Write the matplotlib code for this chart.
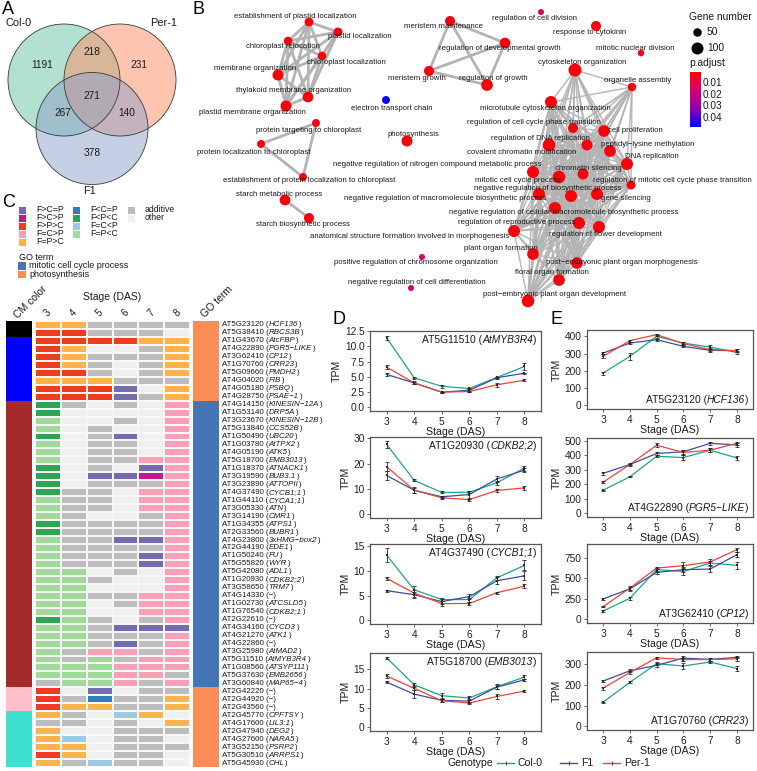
import numpy as np
import matplotlib
matplotlib.use("Agg")
import matplotlib.pyplot as plt
from matplotlib.colors import ListedColormap, LinearSegmentedColormap, Normalize
from matplotlib.patches import Circle, Rectangle
from matplotlib.lines import Line2D
from itertools import combinations

plt.rcParams["font.family"] = ["Liberation Sans", "DejaVu Sans"]

# ============================ DATA ============================
# --- A: Venn counts
venn_sets = ["Col-0", "Per-1", "F1"]
venn_regions = ["Col-0", "Col-0&Per-1", "Per-1", "Col-0&F1", "all", "Per-1&F1", "F1"]
venn_values = [1191, 218, 231, 267, 271, 140, 378]

# --- B: GO network
go_terms = [
    "establishment of plastid localization", "plastid localization", "chloroplast relocation",
    "chloroplast localization", "membrane organization", "thylakoid membrane organization",
    "plastid membrane organization", "protein targeting to chloroplast",
    "protein localization to chloroplast", "establishment of protein localization to chloroplast",
    "starch metabolic process", "starch biosynthetic process", "electron transport chain",
    "photosynthesis", "meristem maintenance", "meristem growth",
    "regulation of developmental growth", "regulation of growth", "regulation of cell division",
    "response to cytokinin", "mitotic nuclear division", "cytoskeleton organization",
    "organelle assembly", "microtubule cytoskeleton organization",
    "regulation of cell cycle phase transition", "cell proliferation",
    "regulation of DNA replication", "covalent chromatin modification",
    "peptidyl\u2212lysine methylation", "DNA replication",
    "negative regulation of nitrogen compound metabolic process", "chromatin silencing",
    "mitotic cell cycle process", "regulation of mitotic cell cycle phase transition",
    "negative regulation of biosynthetic process",
    "negative regulation of macromolecule biosynthetic process", "gene silencing",
    "negative regulation of cellular macromolecule biosynthetic process",
    "regulation of reproductive process", "regulation of flower development",
    "anatomical structure formation involved in morphogenesis", "plant organ formation",
    "post\u2212embryonic plant organ morphogenesis", "floral organ formation",
    "post\u2212embryonic plant organ development",
    "positive regulation of chromosome organization",
    "negative regulation of cell differentiation",
]
go_count = [55, 55, 50, 50, 84, 80, 84, 44, 44, 44, 80, 70, 44, 84, 70, 70, 80, 95,
            25, 70, 30, 117, 50, 100, 70, 95, 110, 84, 95, 100, 100, 84, 110, 56,
            100, 100, 100, 100, 100, 100, 100, 95, 95, 95, 110, 25, 25]
go_padj = [0.002] * 47
go_padj[12] = 0.047
go_padj[18] = 0.013
go_padj[20] = 0.004
go_padj[45] = 0.016
go_padj[46] = 0.016

# network layout (layout coordinates of the drawing)
node_x = [309, 338, 288, 322, 278, 308, 286, 316, 261, 303, 285, 309, 386, 407, 450, 429,
          505, 487, 541, 596, 641, 575, 632, 551, 573, 604, 549, 587, 610, 627, 533, 583,
          559, 631, 539, 571, 597, 555, 579, 599, 514, 533, 577, 559, 528, 422, 411]
node_y = [22, 32, 41, 56, 75, 97, 106, 123, 144, 177, 200, 218, 100, 141, 21, 71,
          43, 85, 12, 26, 53, 70, 87, 102, 128, 131, 145, 145, 151, 164, 172, 174,
          177, 185, 194, 196, 194, 208, 223, 227, 231, 254, 263, 280, 301, 257, 288]
label_x = [295, 360, 283, 346, 255, 294, 252, 309, 254, 309, 279, 303, 392, 413, 443, 417,
           500, 493, 534, 590, 635, 582, 638, 545, 534, 635, 540, 522, 648, 652, 437, 588,
           518, 672, 548, 445, 626, 564, 517, 605, 410, 501, 622, 552, 555, 416, 417]
label_y = [17, 37, 47, 62, 69, 91, 112, 130, 152, 180, 194, 225, 108, 134, 27, 78,
           49, 79, 19, 33, 48, 63, 81, 109, 123, 130, 139, 152, 145, 157, 164, 168,
           180, 180, 188, 198, 198, 212, 222, 234, 237, 249, 262, 273, 295, 263, 282]
net_clusters = [list(range(0, 7)), [7, 8, 9], [10, 11], [14, 15, 16, 17]]
net_big_core = list(range(23, 45))
net_big_hubs = [21, 22]

# --- C: heatmap
cat_labels = ["F>C=P", "F>C>P", "F>P>C", "F=C>P", "F=P>C",
              "F<C=P", "F<P<C", "F=C<P", "F=P<C", "additive", "other"]
cat_codes = "PMRKOBGLgAN"
cat_colors = ["#756bb1", "#c51b8a", "#f03b20", "#fa9fb5", "#feb24c",
              "#2c7fb8", "#31a354", "#9ecae1", "#a1d99b", "#bdbdbd", "#f0f0f0"]

gene_ids = ["AT5G23120", "AT5G38410", "AT1G43670", "AT4G22890", "AT3G62410", "AT1G70760",
            "AT5G09660", "AT4G04020", "AT4G05180", "AT4G28750", "AT4G14150", "AT1G53140",
            "AT3G23670", "AT5G13840", "AT1G50490", "AT1G03780", "AT4G05190", "AT5G18700",
            "AT1G18370", "AT3G19590", "AT3G23890", "AT4G37490", "AT1G44110", "AT3G05330",
            "AT3G14190", "AT1G34355", "AT2G33560", "AT4G23800", "AT2G44190", "AT1G50240",
            "AT5G55820", "AT5G42080", "AT1G20930", "AT3G58650", "AT4G14330", "AT1G02730",
            "AT1G76540", "AT2G22610", "AT4G34160", "AT4G21270", "AT4G22860", "AT3G25980",
            "AT5G11510", "AT1G08560", "AT5G37630", "AT3G60840", "AT2G42220", "AT2G44920",
            "AT2G43560", "AT2G45770", "AT4G17600", "AT2G47940", "AT4G27600", "AT3G52150",
            "AT5G30510", "AT5G45930"]
gene_symbols = ["HCF136", "RBCS3B", "AtcFBP", "PGR5\u2212LIKE", "CP12", "CRR23", "PMDH2", "FIB",
                "PSBQ", "PSAE\u22121", "KINESIN\u221212A", "DRP5A", "KINESIN\u221212B", "CCS52B",
                "UBC20", "AtTPX2", "ATK5", "EMB3013", "ATNACK1", "BUB3.1", "ATTOPII",
                "CYCB1;1", "CYCA1;1", "ATN", "CMR1", "ATPS1", "BUBR1", "3xHMG\u2212box2", "EDE1",
                "FU", "WYR", "ADL1", "CDKB2;2", "TRM7", "", "ATCSLD5", "CDKB2;1", "", "CYCD3",
                "ATK1", "", "AtMAD2", "AtMYB3R4", "ATSYP111", "EMB2656", "MAP65\u22124", "", "",
                "", "CPFTSY", "LIL3:1", "DEG2", "NARA5", "PSRP2", "ARRPS1", "CHL"]
# one letter per stage 3..8 (see cat_codes)
gene_patterns = ["OOAAAA", "RRAAAN", "RRRROO", "RONNAO", "ROAAAO", "ROANAO", "RRANAO",
                 "OOOAAA", "RRRPNO", "RRRPAO", "GANANK", "GNNNNK", "gNNANK", "gNANNK",
                 "GNAPNK", "gNAANK", "gNAANK", "gNAAKK", "GNANPK", "GNPPMK", "GNAAAK",
                 "GAANKK", "gAANKK", "gAANKK", "gANNAK", "GAAAAK", "GAAAAK", "gAAPPK",
                 "gAAAAK", "gAAAPK", "gAAAPK", "ggNANK", "ggANNK", "ggNNNK", "ggAAKK",
                 "ggNAKK", "ggNNKK", "GgANAK", "ggAPPP", "ggAAAK", "ggAPAK", "gAKKAK",
                 "gAgAKK", "gggKKK", "gggKKA", "AggKAK", "RNPNAA", "RABAAO", "ROOAAO",
                 "OANLON", "AANANO", "ONNAAA", "OLNAAN", "OONAAA", "RONAAN", "OALAAN"]
gene_module = ["black"] * 2 + ["blue"] * 8 + ["brown"] * 36 + ["pink"] * 3 + ["turquoise"] * 7
gene_go = ["photosynthesis"] * 10 + ["mitotic cell cycle process"] * 36 + ["photosynthesis"] * 10
stage_labels = ["3", "4", "5", "6", "7", "8"]
go_legend = ["mitotic cell cycle process", "photosynthesis"]

# --- D/E: expression (TPM mean and error)
stages = [3, 4, 5, 6, 7, 8]
genotypes = ["Col-0", "F1", "Per-1"]
tpm_AT5G11510 = {"Col-0": [11.4, 4.85, 3.45, 3.1, 4.9, 6.7], "F1": [5.4, 4.0, 2.5, 2.8, 4.85, 5.6],
                 "Per-1": [6.6, 4.0, 2.5, 2.6, 3.7, 4.45]}
se_AT5G11510 = {"Col-0": [0.3, 0.15, 0.2, 0.15, 0.15, 0.6], "F1": [0.2, 0.2, 0.1, 0.2, 0.15, 0.1],
                "Per-1": [0.35, 0.25, 0.1, 0.15, 0.3, 0.15]}
tpm_AT1G20930 = {"Col-0": [27.6, 13.4, 8.6, 8.7, 12.4, 18.2], "F1": [15.3, 9.5, 6.9, 7.8, 13.9, 17.4],
                 "Per-1": [18.8, 9.5, 6.5, 5.8, 9.4, 10.4]}
se_AT1G20930 = {"Col-0": [1.4, 0.4, 0.4, 0.5, 0.8, 1.0], "F1": [1.6, 1.0, 0.5, 1.2, 1.3, 0.8],
                "Per-1": [1.9, 1.2, 0.5, 0.4, 0.5, 0.8]}
tpm_AT4G37490 = {"Col-0": [13.2, 6.2, 4.2, 4.2, 8.6, 11.1], "F1": [6.0, 5.2, 3.8, 4.8, 8.0, 9.0],
                 "Per-1": [8.5, 5.5, 3.4, 3.4, 5.6, 6.9]}
se_AT4G37490 = {"Col-0": [1.5, 0.8, 0.3, 0.4, 0.4, 1.0], "F1": [0.2, 0.6, 0.5, 0.5, 0.7, 0.9],
                "Per-1": [0.3, 0.7, 0.5, 0.3, 0.2, 0.4]}
tpm_AT5G18700 = {"Col-0": [18.0, 11.0, 8.2, 7.6, 10.5, 13.0], "F1": [11.7, 8.6, 7.0, 6.8, 10.4, 12.3],
                 "Per-1": [13.3, 10.1, 6.9, 6.3, 8.0, 9.4]}
se_AT5G18700 = {"Col-0": [0.3, 0.4, 0.7, 0.4, 0.6, 0.6], "F1": [0.3, 1.0, 0.4, 0.5, 0.5, 0.3],
                "Per-1": [0.5, 0.4, 0.4, 0.3, 0.7, 0.2]}
tpm_AT5G23120 = {"Col-0": [187, 284, 400, 361, 338, 307], "F1": [303, 361, 381, 342, 319, 317],
                 "Per-1": [284, 375, 410, 358, 323, 317]}
se_AT5G23120 = {"Col-0": [8, 20, 8, 8, 10, 10], "F1": [6, 8, 6, 6, 8, 8], "Per-1": [12, 6, 6, 8, 8, 8]}
tpm_AT4G22890 = {"Col-0": [160, 252, 394, 385, 436, 382], "F1": [276, 337, 413, 425, 483, 472],
                 "Per-1": [215, 337, 470, 420, 436, 483]}
se_AT4G22890 = {"Col-0": [4, 4, 8, 20, 12, 12], "F1": [8, 8, 10, 15, 12, 15], "Per-1": [8, 6, 15, 15, 12, 12]}
tpm_AT3G62410 = {"Col-0": [102, 258, 607, 586, 689, 660], "F1": [250, 373, 574, 607, 615, 791],
                 "Per-1": [156, 381, 627, 656, 701, 852]}
se_AT3G62410 = {"Col-0": [12, 20, 25, 45, 30, 40], "F1": [10, 20, 20, 30, 40, 30], "Per-1": [10, 25, 15, 40, 40, 25]}
tpm_AT1G70760 = {"Col-0": [116, 211, 300, 289, 308, 277], "F1": [217, 266, 292, 327, 320, 331],
                 "Per-1": [183, 258, 328, 320, 320, 323]}
se_AT1G70760 = {"Col-0": [3, 4, 8, 12, 6, 10], "F1": [6, 8, 10, 12, 8, 5], "Per-1": [8, 8, 5, 8, 8, 8]}

d_genes = ["AT5G11510", "AT1G20930", "AT4G37490", "AT5G18700"]
d_symbols = ["AtMYB3R4", "CDKB2;2", "CYCB1;1", "EMB3013"]
e_genes = ["AT5G23120", "AT4G22890", "AT3G62410", "AT1G70760"]
e_symbols = ["HCF136", "PGR5\u2212LIKE", "CP12", "CRR23"]
d_yticks = [[0, 2.5, 5, 7.5, 10, 12.5], [0, 10, 20, 30], [0, 5, 10, 15], [0, 5, 10, 15]]
e_yticks = [[0, 100, 200, 300, 400], [0, 100, 200, 300, 400, 500], [0, 250, 500, 750], [0, 100, 200, 300]]

# ============================ STYLE ============================
W, H = 757, 771
fig = plt.figure(figsize=(W / 100, H / 100), dpi=100)
TXT = "#1a1a1a"
geno_colors = {"Col-0": "#1ba58a", "F1": "#3c4e9d", "Per-1": "#ee4336"}
venn_fill = ["#66c2a5", "#fc8d62", "#8da0cb"]
module_colors = {"black": "#000000", "blue": "#0000ff", "brown": "#a52a2a",
                 "pink": "#ffc0cb", "turquoise": "#40e0d0"}
go_colors = {"mitotic cell cycle process": "#4575b4", "photosynthesis": "#fc8d59"}
p_cmap = LinearSegmentedColormap.from_list("padj", ["#ff0000", "#e2005a", "#b40090", "#7000c8", "#0000ff"])
p_norm = Normalize(0.0005, 0.048)


def px_axes(x0, y0, x1, y1):
    return fig.add_axes([x0 / W, 1 - y1 / H, (x1 - x0) / W, (y1 - y0) / H])


def ftext(x, y, s, **kw):
    return fig.text(x / W, 1 - y / H, s, **kw)


def rich_left(ax, x, y, gid, sym, fs, transform=None):
    transform = transform or ax.transData
    if not sym:
        ax.text(x, y, f"{gid} (\u2212)", transform=transform, ha="left", va="center", fontsize=fs, color=TXT)
        return
    t1 = ax.text(x, y, f"{gid} (", transform=transform, ha="left", va="center", fontsize=fs, color=TXT)
    t2 = ax.annotate(sym, xy=(1, 0), xycoords=t1, ha="left", va="bottom", fontsize=fs, style="italic", color=TXT)
    ax.annotate(")", xy=(1, 0), xycoords=t2, ha="left", va="bottom", fontsize=fs, color=TXT)


def rich_right(ax, x, y, gid, sym, fs):
    t3 = ax.text(x, y, ")", transform=ax.transAxes, ha="right", va="center", fontsize=fs, color=TXT)
    t2 = ax.annotate(sym, xy=(0, 0), xycoords=t3, ha="right", va="bottom", fontsize=fs, style="italic", color=TXT)
    ax.annotate(f"{gid} (", xy=(0, 0), xycoords=t2, ha="right", va="bottom", fontsize=fs, color=TXT)


# ============================ PANEL A ============================
axA = px_axes(0, 0, 195, 200)
axA.set_xlim(0, 195)
axA.set_ylim(200, 0)
axA.axis("off")
venn_cx = [64, 120, 92]
venn_cy = [80, 80, 128.5]
venn_r = 56
for i in range(3):
    axA.add_patch(Circle((venn_cx[i], venn_cy[i]), venn_r, facecolor=venn_fill[i], alpha=0.5,
                         edgecolor="none", zorder=1))
for i in range(3):
    axA.add_patch(Circle((venn_cx[i], venn_cy[i]), venn_r, facecolor="none",
                         edgecolor="#3a3a3a", lw=0.6, zorder=2))
venn_lab_x = [42, 92, 139, 63, 92, 127, 92]
venn_lab_y = [65, 52, 65, 113, 96, 113, 153]
for v, x, y in zip(venn_values, venn_lab_x, venn_lab_y):
    axA.text(x, y, str(v), ha="center", va="center", fontsize=7.3, color=TXT, zorder=3)
for name, x, y in zip(venn_sets, [19, 164, 90], [23, 23, 191]):
    axA.text(x, y, name, ha="center", va="center", fontsize=7.9, color=TXT)
ftext(2, 1, "A", fontsize=13, va="top", ha="left", color="black")

# ============================ PANEL B ============================
axB = px_axes(190, 0, 757, 310)
axB.set_xlim(190, 757)
axB.set_ylim(310, 0)
axB.axis("off")


def node_r(c):
    return 0.6 * np.sqrt(c)


def r_to_s(r):
    return (2 * r * 0.72) ** 2


edges = []
for cl in net_clusters:
    edges += list(combinations(cl, 2))
big_edges = list(combinations(net_big_core, 2))
for h in net_big_hubs:
    big_edges += [(h, j) for j in range(23, 38)]
big_edges.append((21, 22))
for a, b in edges:
    axB.plot([node_x[a], node_x[b]], [node_y[a], node_y[b]], color="#b3b3b3", lw=2.0,
             solid_capstyle="round", zorder=1)
for a, b in big_edges:
    axB.plot([node_x[a], node_x[b]], [node_y[a], node_y[b]], color="#b3b3b3", lw=1.1, alpha=0.9, zorder=1)
axB.scatter(node_x, node_y, s=[r_to_s(node_r(c)) for c in go_count], c=go_padj, cmap=p_cmap,
            norm=p_norm, linewidths=0, zorder=2)
for t, x, y in zip(go_terms, label_x, label_y):
    axB.text(x, y, t, ha="center", va="center", fontsize=5.6, color=TXT, zorder=3)
# legend
axB.text(689, 17, "Gene number", ha="left", va="center", fontsize=7.4, color=TXT)
for c, yy in zip([50, 100], [32, 48]):
    axB.scatter([697], [yy], s=r_to_s(node_r(c)), color="black", linewidths=0)
    axB.text(707, yy, str(c), ha="left", va="center", fontsize=7.4, color=TXT)
axB.text(689, 63, "p.adjust", ha="left", va="center", fontsize=7.4, color=TXT)
cb_vals = np.linspace(p_norm.vmin, p_norm.vmax, 200).reshape(-1, 1)
axB.imshow(cb_vals, cmap=p_cmap, norm=p_norm, extent=(690, 701, 127, 72), aspect="auto", zorder=2)
for v in [0.01, 0.02, 0.03, 0.04]:
    yy = 72 + (v - p_norm.vmin) / (p_norm.vmax - p_norm.vmin) * 55
    axB.text(703, yy, f"{v:.2f}", ha="left", va="center", fontsize=7.2, color=TXT)
axB.set_xlim(190, 757)
axB.set_ylim(310, 0)
ftext(192, 1, "B", fontsize=13, va="top", ha="left", color="black")

# ============================ PANEL C ============================
ftext(2, 194, "C", fontsize=13, va="top", ha="left", color="black")
axL = px_axes(0, 200, 220, 285)
axL.set_xlim(0, 220)
axL.set_ylim(285, 200)
axL.axis("off")
col_x = [19, 73, 128]
col_items = [[0, 1, 2, 3, 4], [5, 6, 7, 8], [9, 10]]
row_y = [210, 218, 226, 234, 242]
for cx, items in zip(col_x, col_items):
    for k, idx in enumerate(items):
        axL.add_patch(Rectangle((cx, row_y[k] - 3.5), 7, 7, facecolor=cat_colors[idx], edgecolor="none"))
        axL.text(cx + 17, row_y[k], cat_labels[idx], ha="left", va="center", fontsize=6.3, color=TXT)
axL.text(19, 257, "GO term", ha="left", va="center", fontsize=6.5, color=TXT)
for k, g in enumerate(go_legend):
    axL.add_patch(Rectangle((18, 266 + 8.3 * k - 3.8), 8, 7.6, facecolor=go_colors[g], edgecolor="none"))
    axL.text(29, 266 + 8.3 * k, g, ha="left", va="center", fontsize=6.5, color=TXT)

n_genes = len(gene_ids)
heat_top, heat_bot = 321, 767
mat = np.array([[cat_codes.index(ch) for ch in p] for p in gene_patterns])
axH = px_axes(35, heat_top, 190, heat_bot)
axH.pcolormesh(np.arange(7), np.arange(n_genes + 1), mat, cmap=ListedColormap(cat_colors),
               vmin=-0.5, vmax=len(cat_colors) - 0.5, edgecolors="#f7f7f7", linewidth=0.35)
axH.set_xlim(0, 6)
axH.set_ylim(n_genes, 0)
axH.axis("off")

mod_list = list(module_colors)
axM = px_axes(6, heat_top, 32, heat_bot)
axM.pcolormesh(np.arange(2), np.arange(n_genes + 1),
               np.array([[mod_list.index(m)] for m in gene_module]),
               cmap=ListedColormap([module_colors[m] for m in mod_list]), vmin=-0.5, vmax=len(mod_list) - 0.5)
axM.set_ylim(n_genes, 0)
axM.axis("off")

go_list = list(go_colors)
axG = px_axes(193, heat_top, 219, heat_bot)
axG.pcolormesh(np.arange(2), np.arange(n_genes + 1),
               np.array([[go_list.index(g)] for g in gene_go]),
               cmap=ListedColormap([go_colors[g] for g in go_list]), vmin=-0.5, vmax=len(go_list) - 0.5)
axG.set_ylim(n_genes, 0)
axG.axis("off")

axT = px_axes(222, heat_top, 345, heat_bot)
axT.set_xlim(0, 1)
axT.set_ylim(n_genes, 0)
axT.axis("off")
for i, (gid, sym) in enumerate(zip(gene_ids, gene_symbols)):
    rich_left(axT, 0.0, i + 0.5, gid, sym, 5.7)

ftext(31, 302, "CM color", rotation=45, ha="center", va="center", fontsize=7.5, color=TXT)
ftext(112, 297, "Stage (DAS)", ha="center", va="center", fontsize=7.5, color=TXT)
ftext(217, 302, "GO term", rotation=45, ha="center", va="center", fontsize=7.5, color=TXT)
for k, s in enumerate(stage_labels):
    ftext(35 + (k + 0.5) * 155 / 6, 313, s, rotation=45, ha="center", va="center", fontsize=7, color=TXT)

# ============================ PANELS D & E ============================
d_tops = [331, 437, 544, 653]
d_bots = [411, 518, 624, 731]
e_tops = [330, 438, 544, 652]
e_bots = [409, 517, 623, 730]


def line_panel(ax, means, ses, yticks, gid, sym, title_top, fmt):
    ymax = 0
    for g in genotypes:
        m = np.array(means[g])
        e = np.array(ses[g])
        ymax = max(ymax, (m + e).max())
        ax.plot(stages, m, color=geno_colors[g], lw=0.9, zorder=2)
        ax.errorbar(stages, m, yerr=e, fmt="none", ecolor="#2b2b2b", elinewidth=0.6,
                    capsize=1.6, capthick=0.6, zorder=3)
        ax.scatter(stages, m, s=1.5, color="#2b2b2b", zorder=4, marker="s", linewidths=0)
    ax.set_xlim(2.4, 8.6)
    ax.set_ylim(-0.05 * ymax, 1.05 * ymax)
    ax.set_xticks(stages)
    ax.set_yticks(yticks)
    ax.set_yticklabels([fmt(v) for v in yticks])
    for sp in ax.spines.values():
        sp.set_color("#555555")
        sp.set_linewidth(0.9)
    ax.tick_params(length=2.5, width=0.6, color="#555555", labelsize=7.3, pad=1.5, labelcolor="#222222")
    ax.set_xlabel("Stage (DAS)", fontsize=7.6, labelpad=0, color=TXT)
    ax.set_ylabel("TPM", fontsize=7.6, labelpad=2, color=TXT)
    if title_top:
        rich_right(ax, 0.975, 0.89, gid, sym, 7.4)
    else:
        rich_right(ax, 0.975, 0.12, gid, sym, 7.4)


d_means = [tpm_AT5G11510, tpm_AT1G20930, tpm_AT4G37490, tpm_AT5G18700]
d_ses = [se_AT5G11510, se_AT1G20930, se_AT4G37490, se_AT5G18700]
e_means = [tpm_AT5G23120, tpm_AT4G22890, tpm_AT3G62410, tpm_AT1G70760]
e_ses = [se_AT5G23120, se_AT4G22890, se_AT3G62410, se_AT1G70760]
for k in range(4):
    ax = px_axes(370, d_tops[k], 541, d_bots[k])
    f = (lambda v: f"{v:.1f}") if k == 0 else (lambda v: f"{v:g}")
    line_panel(ax, d_means[k], d_ses[k], d_yticks[k], d_genes[k], d_symbols[k], True, f)
    ax = px_axes(587, e_tops[k], 753, e_bots[k])
    line_panel(ax, e_means[k], e_ses[k], e_yticks[k], e_genes[k], e_symbols[k], False, lambda v: f"{v:g}")

ftext(333, 311, "D", fontsize=13, va="top", ha="left", color="black")
ftext(551, 311, "E", fontsize=13, va="top", ha="left", color="black")

# bottom legend
ftext(447, 763, "Genotype", ha="left", va="center", fontsize=7.6, color=TXT)
leg_x = [497, 560, 603]
for g, lx in zip(genotypes, leg_x):
    fig.add_artist(Line2D([lx / W, (lx + 17) / W], [1 - 763 / H, 1 - 763 / H], color=geno_colors[g], lw=1.0))
    fig.add_artist(Line2D([(lx + 8.5) / W], [1 - 763 / H], marker="|", ms=3, color="#2b2b2b", mew=0.6, lw=0))
    ftext(lx + 21, 763, g, ha="left", va="center", fontsize=7.6, color=TXT)

fig.savefig("out.png", dpi=100)
